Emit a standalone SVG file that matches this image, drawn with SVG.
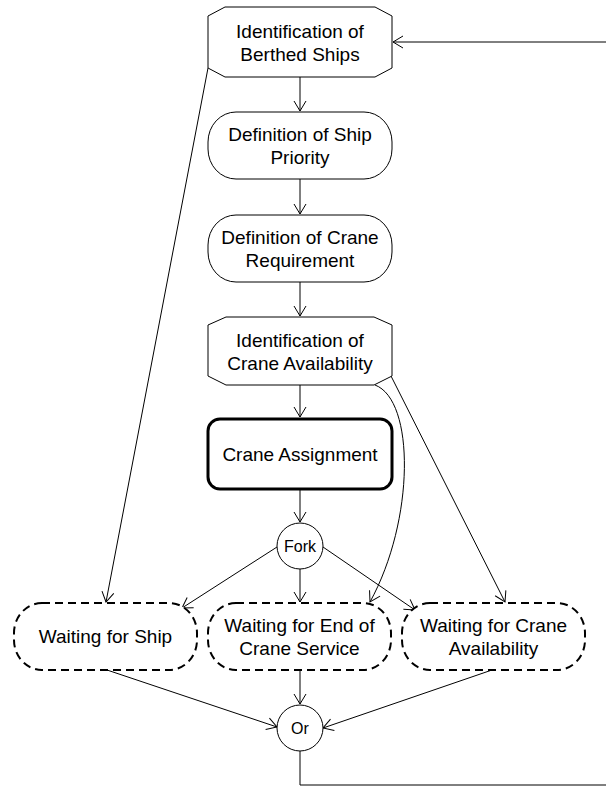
<svg xmlns="http://www.w3.org/2000/svg" width="606" height="786" viewBox="0 0 606 786">
  <style>
    .node { fill: #ffffff; stroke: #000000; stroke-width: 1; }
    .bold { stroke-width: 3; }
    .wait { fill: #ffffff; stroke: #000000; stroke-width: 2; stroke-dasharray: 8 5; }
    .lbl { font-family: "Liberation Sans", Arial, sans-serif; font-size: 19px; fill: #000000; text-anchor: middle; }
    .small { font-size: 16px; }
    .conn { fill: none; stroke: #000000; stroke-width: 1; marker-end: url(#arrow); }
  </style>
  <defs>
    <marker id="arrow" viewBox="-11 -7 12 14" refX="0" refY="0" markerWidth="12" markerHeight="14" markerUnits="userSpaceOnUse" orient="auto">
      <path d="M-10,-6 L0,0 L-10,6" fill="none" stroke="#000000" stroke-width="1"/>
    </marker>
  </defs>
  <rect width="606" height="786" fill="#ffffff"/>

  <g id="connectors">
    <path class="conn" d="M300,77 V111"/>
    <path class="conn" d="M300,179 V214"/>
    <path class="conn" d="M300,282 V316"/>
    <path class="conn" d="M300,385 V417"/>
    <path class="conn" d="M300,490 V522"/>
    <path class="conn" d="M300,569 V602"/>
    <path class="conn" d="M277,547 L182,608"/>
    <path class="conn" d="M323,547 L415,610"/>
    <path class="conn" d="M208,68 L106,602"/>
    <path class="conn" d="M375,385 C415,400 415,520 370,602"/>
    <path class="conn" d="M391,376 L505,602"/>
    <path class="conn" d="M107,670 L277,727"/>
    <path class="conn" d="M300,670 V704"/>
    <path class="conn" d="M492,670 L323,728"/>
    <path class="conn" d="M300,751 V785 H630 V42 H393"/>
  </g>

  <g id="n1">
    <polygon class="node" points="225,7 375,7 392,16 392,68 375,77 225,77 208,68 208,16"/>
    <text class="lbl" x="300" y="37.5">Identification of</text>
    <text class="lbl" x="300" y="60.5">Berthed Ships</text>
  </g>
  <g id="n2">
    <rect class="node" x="208" y="112" width="184" height="67" rx="28" ry="30"/>
    <text class="lbl" x="300" y="141">Definition of Ship</text>
    <text class="lbl" x="300" y="164">Priority</text>
  </g>
  <g id="n3">
    <rect class="node" x="208" y="215" width="184" height="67" rx="28" ry="30"/>
    <text class="lbl" x="300" y="244">Definition of Crane</text>
    <text class="lbl" x="300" y="267">Requirement</text>
  </g>
  <g id="n4">
    <polygon class="node" points="226,317 374,317 392,325 392,376 374,385 226,385 208,376 208,325"/>
    <text class="lbl" x="300" y="346.5">Identification of</text>
    <text class="lbl" x="300" y="369.5">Crane Availability</text>
  </g>
  <g id="n5">
    <rect class="node bold" x="208" y="419" width="184" height="70" rx="12" ry="12"/>
    <text class="lbl" x="300" y="461">Crane Assignment</text>
  </g>
  <g id="fork">
    <circle class="node" cx="300" cy="546" r="23"/>
    <text class="lbl small" x="300" y="551.5">Fork</text>
  </g>
  <g id="w1">
    <rect class="wait" x="14" y="603" width="183" height="67" rx="28" ry="30"/>
    <text class="lbl" x="105.5" y="643">Waiting for Ship</text>
  </g>
  <g id="w2">
    <rect class="wait" x="208" y="603" width="183" height="67" rx="28" ry="30"/>
    <text class="lbl" x="299.5" y="632">Waiting for End of</text>
    <text class="lbl" x="299.5" y="655">Crane Service</text>
  </g>
  <g id="w3">
    <rect class="wait" x="402" y="603" width="183" height="67" rx="28" ry="30"/>
    <text class="lbl" x="493.5" y="632">Waiting for Crane</text>
    <text class="lbl" x="493.5" y="655">Availability</text>
  </g>
  <g id="or">
    <circle class="node" cx="300" cy="728" r="23"/>
    <text class="lbl small" x="300" y="733.5">Or</text>
  </g>
</svg>
